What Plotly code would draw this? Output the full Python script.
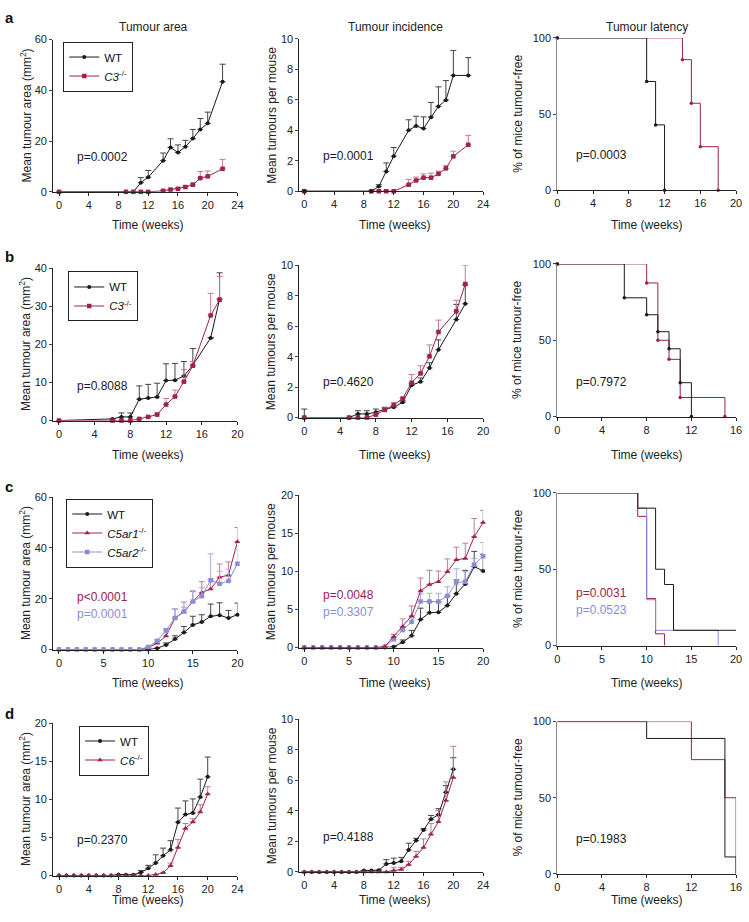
import plotly.graph_objects as go

W, H = 749, 922
RED = "#9E2150"
BLUE = "#8A8DD6"
BLACK = "#1a1a1a"
RED_ERR = "#C47A90"
BLUE_ERR = "#A9ABE4"
BLACK_ERR = "#444444"
FONT = "Liberation Sans, Arial, sans-serif"

# ---------------- data ----------------
# Row a
A_T = [0, 9, 10, 11, 12, 14, 15, 16, 17, 18, 19, 20, 22]
A_AREA_WT = [0, 0, 0, 3.6, 5.8, 12.3, 17.5, 15.5, 17.8, 21.0, 24.6, 27.0, 43.4]
A_AREA_WT_ERR = [None, None, None, 2.0, 2.6, 3.0, 3.4, 3.0, 2.5, 3.6, 4.3, 4.4, 6.9]
A_AREA_C3 = [0, 0, 0, 0, 0, 0.4, 0.9, 1.2, 1.9, 2.8, 5.4, 6.1, 9.1]
A_AREA_C3_ERR = [None, None, None, None, None, 0.3, 0.3, 0.4, 0.6, 0.7, 2.6, 2.1, 3.7]
A_INC_WT = [0, 0, 0.32, 1.3, 2.3, 4.0, 4.28, 4.12, 4.86, 5.57, 5.98, 7.6, 7.6]
A_INC_WT_ERR = [None, None, 0.11, 0.56, 0.57, 0.69, 0.64, 0.76, 0.97, 1.28, 1.28, 1.64, 1.17]
A_INC_C3 = [0, 0, 0, 0, 0, 0.43, 0.71, 0.89, 0.89, 1.14, 1.5, 2.29, 3.05]
A_INC_C3_ERR = [None, None, None, None, None, 0.35, 0.22, 0.25, 0.3, 0.18, 0.18, 0.34, 0.62]
A_LAT_WT_T = [0, 10, 11, 12]
A_LAT_WT = [100, 71.4, 42.9, 0]
A_LAT_C3_T = [0, 14, 15, 16, 18]
A_LAT_C3 = [100, 85.7, 57.1, 28.6, 0]

# Row b
B_AREA_T = [0, 6, 7, 8, 9, 10, 11, 12, 13, 14, 15, 17, 18]
B_AREA_WT = [0, 0.43, 0.95, 0.95, 5.6, 5.9, 6.2, 10.5, 10.6, 11.7, 14.5, 21.7, 31.9]
B_AREA_WT_ERR = [None, None, 1.05, 1.05, 3.5, 3.6, 3.6, 4.4, 4.4, 3.8, 4.4, None, 6.9]
B_AREA_C3 = [0, 0, 0, 0, 0.43, 0.95, 1.55, 4.2, 6.3, 10.2, 14.4, 27.6, 31.7]
B_AREA_C3_ERR = [None, None, None, None, None, None, 0.45, 1.6, 1.7, 3.2, 1.1, 5.8, 6.1]
B_INC_T = [0, 5, 6, 7, 8, 9, 10, 11, 12, 13, 14, 15, 17, 18]
B_INC_WT = [0, 0, 0.24, 0.24, 0.35, 0.56, 0.67, 1.0, 2.12, 2.35, 3.26, 4.45, 6.44, 7.47]
B_INC_WT_ERR = [0.56, None, 0.21, 0.21, 0.21, 0.1, 0.1, 0.1, 0.1, 0.25, 0.34, 0.65, 0.99, 1.23]
B_INC_C3 = [0, 0, 0, 0, 0.19, 0.5, 0.82, 1.25, 2.29, 2.9, 4.02, 5.62, 6.98, 8.77]
B_INC_C3_ERR = [None, None, None, None, 0.1, 0.19, 0.18, 0.05, 0.54, 0.5, 0.75, 0.78, 0.72, 1.23]
B_LAT_WT_T = [0, 6, 8, 9, 10, 11, 12]
B_LAT_WT = [100, 77.8, 66.7, 55.6, 44.4, 22.2, 0]
B_LAT_C3_T = [0, 8, 9, 10, 11, 15]
B_LAT_C3 = [100, 87.5, 50, 37.5, 12.5, 0]

# Row c
C_T = list(range(0, 21))
C_AREA_WT = [0] * 11 + [0.5, 1.8, 4.1, 6.7, 9.7, 10.8, 13.1, 13.5, 12.4, 13.7]
C_AREA_WT_ERR = [None] * 12 + [0.8, 1.3, 2.4, 3.4, 2.9, 4.8, 4.9, 3.0, 4.6]
C_AREA_R1 = [0] * 10 + [0.8, 2.5, 5.3, 12.4, 14.8, 18.9, 22.5, 23.8, 28.5, 29.3, 42.5]
C_AREA_R1_ERR = [None] * 12 + [2.9, 3.5, 3.9, 3.9, 4.2, 3.9, 5.2, 5.2, 5.6]
C_AREA_R2 = [0] * 10 + [1.0, 3.4, 7.5, 12.4, 15.0, 18.9, 21.0, 27.3, 25.9, 27.0, 33.8]
C_AREA_R2_ERR = [None] * 11 + [0.6, 0.7, 3.7, 1.7, 4.4, 3.4, 10.4, 4.9, 4.6, 5.6]
C_INC_WT = [0] * 10 + [0.1, 0.7, 1.55, 3.67, 4.58, 4.62, 5.53, 7.08, 8.34, 10.63, 10.06]
C_INC_WT_ERR = [None] * 11 + [0.3, 0.7, 1.5, 1.4, 1.35, 1.2, 1.8, 1.8, 2.0, 2.2]
C_INC_R1 = [0] * 9 + [0.13, 1.43, 2.76, 4.15, 7.43, 8.29, 8.64, 9.94, 11.53, 11.7, 14.56, 16.41]
C_INC_R1_ERR = [None] * 10 + [0.3, 1.0, 1.3, 1.7, 1.85, 1.4, 1.7, 1.65, 2.0, 2.4, 1.6]
C_INC_R2 = [0] * 9 + [0.1, 1.08, 2.29, 3.37, 6.05, 6.05, 6.05, 6.78, 8.55, 8.64, 10.89, 12.0]
C_INC_R2_ERR = [None] * 11 + [0.3, 0.6, 1.0, 1.08, 1.08, 1.2, 1.8, 1.3, 0.8, 1.8]
C_LAT_WT_T = [0, 9, 11, 12, 13, 20]
C_LAT_WT = [100, 90, 50, 40, 10, 10]
C_LAT_R1_T = [0, 9, 10, 11, 12]
C_LAT_R1 = [100, 84.6, 30.8, 7.7, 0]
C_LAT_R2_T = [0, 9, 10, 11, 18]
C_LAT_R2 = [100, 90, 30, 10, 0]

# Row d
D_T = list(range(0, 21))
D_AREA_WT = [0] * 8 + [0.13, 0.09, 0.09, 0.39, 0.95, 1.64, 2.6, 3.37, 7.0, 8.0, 8.2, 10.3, 12.96]
D_AREA_WT_ERR = [None] * 11 + [0.26, 0.39, 1.08, 1.0, 1.2, 1.86, 1.8, 1.86, 2.36, 2.6]
D_AREA_C6 = [0] * 13 + [0.13, 0.35, 1.3, 3.67, 6.18, 7.04, 8.34, 10.7]
D_AREA_C6_ERR = [None] * 15 + [0.34, 1.08, 0.65, 0.43, 0.95, 0.96]
D_INC_WT = [0] * 8 + [0.09, 0.09, 0.11, 0.52, 0.58, 0.69, 1.44, 2.05, 2.74, 3.45, 3.75, 5.22, 6.72]
D_INC_WT_ERR = [None] * 11 + [0.28, 0.32, 0.26, 0.44, 0.15, 0.1, 0.25, 0.39, 0.43, 0.76]
D_INC_C6 = [0] * 12 + [0.09, 0.15, 0.47, 1.01, 1.59, 2.46, 3.28, 4.68, 6.19]
D_INC_C6_ERR = [None] * 12 + [0.21, 0.15, 0.22, 0.33, 0.57, 0.71, 0.75, 1.22, 2.04]
D_LAT_WT_T = [0, 8, 15, 16]
D_LAT_WT = [100, 88.9, 11.1, 0]
D_LAT_C6_T = [0, 12, 15, 16]
D_LAT_C6 = [100, 75, 50, 0]

# p-values
P_TEXT = {
    1: [("p=0.0002", BLACK)], 2: [("p=0.0001", BLACK)], 3: [("p=0.0003", BLACK)],
    4: [("p=0.8088", BLACK)], 5: [("p=0.4620", BLACK)], 6: [("p=0.7972", BLACK)],
    7: [("p<0.0001", RED), ("p=0.0001", BLUE)], 8: [("p=0.0048", RED), ("p=0.3307", BLUE)],
    9: [("p=0.0031", RED), ("p=0.0523", BLUE)],
    10: [("p=0.2370", BLACK)], 11: [("p=0.4188", BLACK)], 12: [("p=0.1983", BLACK)],
}

WT_NAME = "WT"
C3_NAME = "<i>C3</i><sup>-/-</sup>"
R1_NAME = "<i>C5ar1</i><sup>-/-</sup>"
R2_NAME = "<i>C5ar2</i><sup>-/-</sup>"
C6_NAME = "<i>C6</i><sup>-/-</sup>"

# ---------------- layout geometry (pixels) ----------------
X_PIX = [(50.7, 237.3), (300, 486), (561, 742)]
Y_PIX = [[(34, 188.3), (33.3, 187.7), (32.3, 186.7)],
         [(265.7, 420), (262.7, 417), (261.3, 416)],
         [(497.7, 652), (495.7, 650), (493.3, 648)],
         [(726.7, 881), (722.7, 877.3), (725, 879.3)]]
X_RANGE = [[(-0.8, 24), (-0.66, 24), (0, 20)],
           [(-0.66, 20), (-0.55, 20), (0, 16)],
           [(-0.66, 20), (-0.55, 20), (0, 20)],
           [(-0.8, 24), (-0.66, 24), (0, 16)]]
X_DTICK = [[4, 4, 4], [4, 4, 4], [5, 5, 5], [4, 4, 4]]
Y_MAX = [[60, 10, 100], [40, 10, 100], [60, 20, 100], [20, 10, 100]]
Y_DTICK = [[20, 2, 50], [10, 2, 50], [20, 5, 50], [5, 2, 50]]
TITLE_Y = [222, 455, 686, 906]
XT_X = [147, 397, 652]
YT_X = [23, 272, 521]
P_X = [101, 350, 606]
P_Y = [[153, 151.7, 151], [385, 381, 380.7], [598.3, 596.7, 594.3], [845, 842.3, 844]]
LEG_POS = [(61, 36), (66, 269), (64, 499), (77, 729)]
LETTERS = [("a", 12), ("b", 254), ("c", 487), ("d", 717)]

FS = 12
TFS = 11


def fx(p):
    return p / W


def fy(p):
    return 1 - p / H


fig = go.Figure()


def ax(idx):
    return ("x" if idx == 1 else f"x{idx}"), ("y" if idx == 1 else f"y{idx}")


def add_series(idx, x, y, err, color, ecolor, symbol, msize, name, legend, showlegend):
    xa, ya = ax(idx)
    fig.add_trace(go.Scatter(
        x=x, y=y, mode="lines+markers", name=name,
        line=dict(color=color, width=1),
        marker=dict(color=color, symbol=symbol, size=msize),
        error_y=dict(type="data", symmetric=False, array=err,
                     arrayminus=[0] * len(y), color=ecolor, thickness=1, width=3),
        xaxis=xa, yaxis=ya, cliponaxis=False,
        legend=legend, showlegend=showlegend,
    ))


def add_km(idx, t, s, color, markers):
    xa, ya = ax(idx)
    fig.add_trace(go.Scatter(
        x=t, y=s, mode="lines+markers" if markers else "lines",
        line=dict(color=color, width=1, shape="hv"),
        marker=dict(color=color, size=3.5),
        xaxis=xa, yaxis=ya, cliponaxis=False, showlegend=False,
    ))


# Row a
add_series(1, A_T, A_AREA_WT, A_AREA_WT_ERR, BLACK, BLACK_ERR, "circle", 4, WT_NAME, "legend", True)
add_series(1, A_T, A_AREA_C3, A_AREA_C3_ERR, RED, RED_ERR, "square", 4.5, C3_NAME, "legend", True)
add_series(2, A_T, A_INC_C3, A_INC_C3_ERR, RED, RED_ERR, "square", 4.5, C3_NAME, "legend", False)
add_series(2, A_T, A_INC_WT, A_INC_WT_ERR, BLACK, BLACK_ERR, "circle", 4, WT_NAME, "legend", False)
add_km(3, A_LAT_C3_T, A_LAT_C3, RED, True)
add_km(3, A_LAT_WT_T, A_LAT_WT, BLACK, True)

# Row b
add_series(4, B_AREA_T, B_AREA_WT, B_AREA_WT_ERR, BLACK, BLACK_ERR, "circle", 4, WT_NAME, "legend2", True)
add_series(4, B_AREA_T, B_AREA_C3, B_AREA_C3_ERR, RED, RED_ERR, "square", 4.5, C3_NAME, "legend2", True)
add_series(5, B_INC_T, B_INC_WT, B_INC_WT_ERR, BLACK, BLACK_ERR, "circle", 4, WT_NAME, "legend2", False)
add_series(5, B_INC_T, B_INC_C3, B_INC_C3_ERR, RED, RED_ERR, "square", 4.5, C3_NAME, "legend2", False)
add_km(6, B_LAT_C3_T, B_LAT_C3, RED, True)
add_km(6, B_LAT_WT_T, B_LAT_WT, BLACK, True)

# Row c
add_series(7, C_T, C_AREA_WT, C_AREA_WT_ERR, BLACK, BLACK_ERR, "circle", 4, WT_NAME, "legend3", True)
add_series(7, C_T, C_AREA_R1, C_AREA_R1_ERR, RED, RED_ERR, "triangle-up", 5, R1_NAME, "legend3", True)
add_series(7, C_T, C_AREA_R2, C_AREA_R2_ERR, BLUE, BLUE_ERR, "square", 4.5, R2_NAME, "legend3", True)
add_series(8, C_T, C_INC_WT, C_INC_WT_ERR, BLACK, BLACK_ERR, "circle", 4, WT_NAME, "legend3", False)
add_series(8, C_T, C_INC_R2, C_INC_R2_ERR, BLUE, BLUE_ERR, "square", 4.5, R2_NAME, "legend3", False)
add_series(8, C_T, C_INC_R1, C_INC_R1_ERR, RED, RED_ERR, "triangle-up", 5, R1_NAME, "legend3", False)
add_km(9, C_LAT_R1_T, C_LAT_R1, RED, False)
add_km(9, C_LAT_R2_T, C_LAT_R2, BLUE, False)
add_km(9, C_LAT_WT_T, C_LAT_WT, BLACK, False)

# Row d
add_series(10, D_T, D_AREA_WT, D_AREA_WT_ERR, BLACK, BLACK_ERR, "circle", 4, WT_NAME, "legend4", True)
add_series(10, D_T, D_AREA_C6, D_AREA_C6_ERR, RED, RED_ERR, "triangle-up", 5, C6_NAME, "legend4", True)
add_series(11, D_T, D_INC_WT, D_INC_WT_ERR, BLACK, BLACK_ERR, "circle", 4, WT_NAME, "legend4", False)
add_series(11, D_T, D_INC_C6, D_INC_C6_ERR, RED, RED_ERR, "triangle-up", 5, C6_NAME, "legend4", False)
add_km(12, D_LAT_C6_T, D_LAT_C6, RED, False)
add_km(12, D_LAT_WT_T, D_LAT_WT, BLACK, False)

layout = dict(
    width=W, height=H, margin=dict(l=0, r=0, t=0, b=0),
    paper_bgcolor="white", plot_bgcolor="white",
    font=dict(family=FONT, size=FS, color="#222"),
)
annotations = []
tickfont = dict(family=FONT, size=TFS, color="#222")
ytitles = ["Mean tumour area (mm<sup>2</sup>)", "Mean tumours per mouse", "% of mice tumour-free"]
for r in range(4):
    for c in range(3):
        idx = r * 3 + c + 1
        xn = "xaxis" if idx == 1 else f"xaxis{idx}"
        yn = "yaxis" if idx == 1 else f"yaxis{idx}"
        xa, ya = ax(idx)
        y0p, y1p = Y_PIX[r][c]
        layout[xn] = dict(
            domain=[fx(X_PIX[c][0]), fx(X_PIX[c][1])], range=list(X_RANGE[r][c]),
            anchor=ya, showgrid=False, zeroline=False, showline=True,
            linecolor="#222", linewidth=1, ticks="outside", ticklen=3,
            tickcolor="#222", tick0=0, dtick=X_DTICK[r][c], tickfont=tickfont,
        )
        layout[yn] = dict(
            domain=[fy(y1p), fy(y0p)], range=[0, Y_MAX[r][c]],
            anchor=xa, showgrid=False, zeroline=False, showline=True,
            linecolor="#888" if c == 2 else "#222", linewidth=1,
            ticks="outside", ticklen=3, tickcolor="#444",
            tick0=0, dtick=Y_DTICK[r][c], tickfont=tickfont,
        )
        annotations.append(dict(text="Time (weeks)", x=fx(XT_X[c]), y=fy(TITLE_Y[r]),
                                xref="paper", yref="paper", showarrow=False,
                                xanchor="center", yanchor="middle", font=dict(size=FS)))
        annotations.append(dict(text=ytitles[c], x=fx(YT_X[c]), y=fy((y0p + y1p) / 2),
                                xref="paper", yref="paper", showarrow=False, textangle=-90,
                                xanchor="center", yanchor="middle", font=dict(size=FS)))
        for k, (txt, col) in enumerate(P_TEXT[idx]):
            annotations.append(dict(text=txt, x=fx(P_X[c]), y=fy(P_Y[r][c] + 17.5 * k),
                                    xref="paper", yref="paper", showarrow=False,
                                    xanchor="center", yanchor="middle",
                                    font=dict(size=FS, color=col)))

for txt, xc in [("Tumour area", 152), ("Tumour incidence", 397), ("Tumour latency", 652)]:
    annotations.append(dict(text=txt, x=fx(xc), y=fy(21), xref="paper", yref="paper",
                            showarrow=False, xanchor="center", yanchor="middle",
                            font=dict(size=FS)))
for letter, ly in LETTERS:
    annotations.append(dict(text=f"<b>{letter}</b>", x=fx(0), y=fy(ly), xref="paper", yref="paper",
                            showarrow=False, xanchor="left", yanchor="middle",
                            font=dict(size=15, color="#111")))
layout["annotations"] = annotations

for i, (lx, ly) in enumerate(LEG_POS):
    name = "legend" if i == 0 else f"legend{i + 1}"
    layout[name] = dict(x=fx(lx), y=fy(ly), xanchor="left", yanchor="top",
                        bordercolor="#222", borderwidth=1, bgcolor="white",
                        font=dict(family=FONT, size=11.5, color="#111"),
                        itemwidth=30, tracegroupgap=0)

fig.update_layout(**layout)
fig.write_html("out.html", config={"displayModeBar": False},
               post_script="document.body.style.margin='0';document.body.style.padding='0';"
                           "document.body.style.overflow='hidden';")
